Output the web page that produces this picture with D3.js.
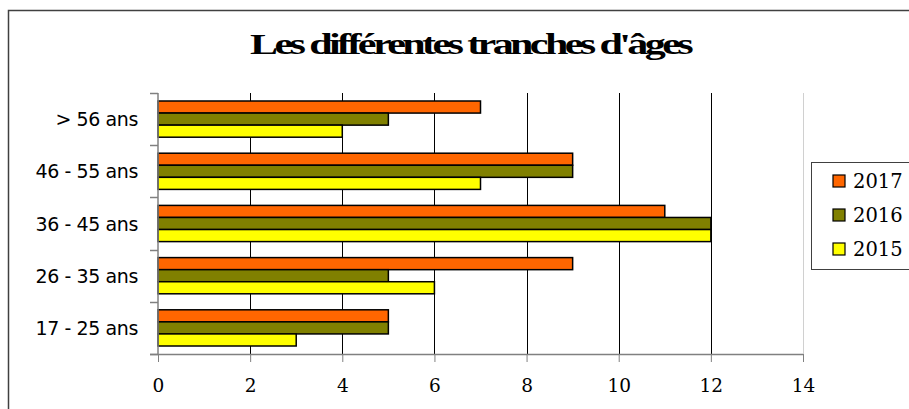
<!DOCTYPE html>
<html><head><meta charset="utf-8">
<script src="https://cdn.jsdelivr.net/npm/d3@7/dist/d3.min.js"></script>
<style>body{margin:0;background:#fff}svg{display:block}</style>
</head><body>
<svg id="c" width="909" height="409"></svg>
<script>
const categories = ["> 56 ans", "46 - 55 ans", "36 - 45 ans", "26 - 35 ans", "17 - 25 ans"];
const seriesNames = ["2017", "2016", "2015"];
const v2017 = [7, 9, 11, 9, 5];
const v2016 = [5, 9, 12, 5, 5];
const v2015 = [4, 7, 12, 6, 3];
const xTicks = [0, 2, 4, 6, 8, 10, 12, 14];
const colors = ["#FF6600", "#808000", "#FFFF00"];
const title = "Les différentes tranches d'âges";

const values = [v2017, v2016, v2015];
const svg = d3.select("#c");

// outer chart border
svg.append("rect").attr("x", 8.5).attr("y", 10.5).attr("width", 920).attr("height", 420)
  .attr("fill", "#fff").attr("stroke", "#404040").attr("stroke-width", 1.5);

const x = d3.scaleLinear().domain([0, 14]).range([158, 803]);
const y = d3.scaleBand().domain(categories).range([93, 354]).padding(0);
const ys = d3.scaleBand().domain(seriesNames).range([8, y.bandwidth() - 8]).padding(0);

// title
svg.append("text").attr("x", 470).attr("y", 54).attr("text-anchor", "middle")
  .attr("font-family", "Liberation Serif, Times New Roman, serif").attr("font-weight", "bold")
  .attr("font-size", 29).attr("letter-spacing", -2.5)
  .attr("textLength", 440).attr("lengthAdjust", "spacingAndGlyphs")
  .text(title);

// gridlines
const g = svg.append("g");
g.selectAll("line.grid").data(xTicks.slice(1)).enter().append("line")
  .attr("x1", d => Math.round(x(d)) + 0.5).attr("x2", d => Math.round(x(d)) + 0.5)
  .attr("y1", 93).attr("y2", 354)
  .attr("stroke", d => d === 14 ? "#d0d0d0" : "#000").attr("stroke-width", 1);

// bars
categories.forEach((c, ci) => {
  seriesNames.forEach((s, si) => {
    svg.append("rect")
      .attr("x", x(0)).attr("y", y(c) + ys(s))
      .attr("width", x(values[si][ci]) - x(0)).attr("height", ys.bandwidth())
      .attr("fill", colors[si]).attr("stroke", "#000").attr("stroke-width", 1.5);
  });
});

// x axis
const xAxis = d3.axisBottom(x).tickValues(xTicks).tickSize(8).tickPadding(17).tickFormat(d3.format("d"));
const gx = svg.append("g").attr("transform", "translate(0,354)").call(xAxis);
gx.select(".domain").attr("d", `M150,0.5H${x(14)}`).attr("stroke", "#808080").attr("stroke-width", 1.5);
gx.selectAll(".tick line").attr("stroke", "#808080");
gx.selectAll(".tick text").attr("font-family", "DejaVu Serif, serif").attr("font-size", 18.5).attr("fill", "#000");

// y axis
const gy = svg.append("g").attr("transform", "translate(158,0)");
gy.append("line").attr("x1", 0).attr("x2", 0).attr("y1", 93).attr("y2", 354).attr("stroke", "#808080").attr("stroke-width", 1.5);
const yEdges = categories.map(c => y(c)).concat([y.range()[1]]);
gy.selectAll("line.t").data(yEdges).enter().append("line")
  .attr("x1", -8).attr("x2", 0).attr("y1", d => Math.round(d) + 0.5).attr("y2", d => Math.round(d) + 0.5)
  .attr("stroke", "#808080").attr("stroke-width", 1.5);
gy.selectAll("text").data(categories).enter().append("text")
  .attr("x", -20).attr("y", d => y(d) + y.bandwidth() / 2 + 7)
  .attr("text-anchor", "end").attr("font-family", "DejaVu Sans, sans-serif").attr("font-size", 19)
  .attr("letter-spacing", -0.4).text(d => d);

// legend
const lg = svg.append("g");
lg.append("rect").attr("x", 811.5).attr("y", 162.5).attr("width", 110).attr("height", 107)
  .attr("fill", "#fff").attr("stroke", "#404040").attr("stroke-width", 1);
seriesNames.forEach((s, i) => {
  const cy = 181 + i * 34;
  lg.append("rect").attr("x", 833).attr("y", cy - 6).attr("width", 12).attr("height", 12)
    .attr("fill", colors[i]).attr("stroke", "#000").attr("stroke-width", 1.2);
  lg.append("text").attr("x", 853).attr("y", cy + 7).attr("font-family", "DejaVu Serif, serif")
    .attr("font-size", 19.5).text(s);
});
</script>
</body></html>
